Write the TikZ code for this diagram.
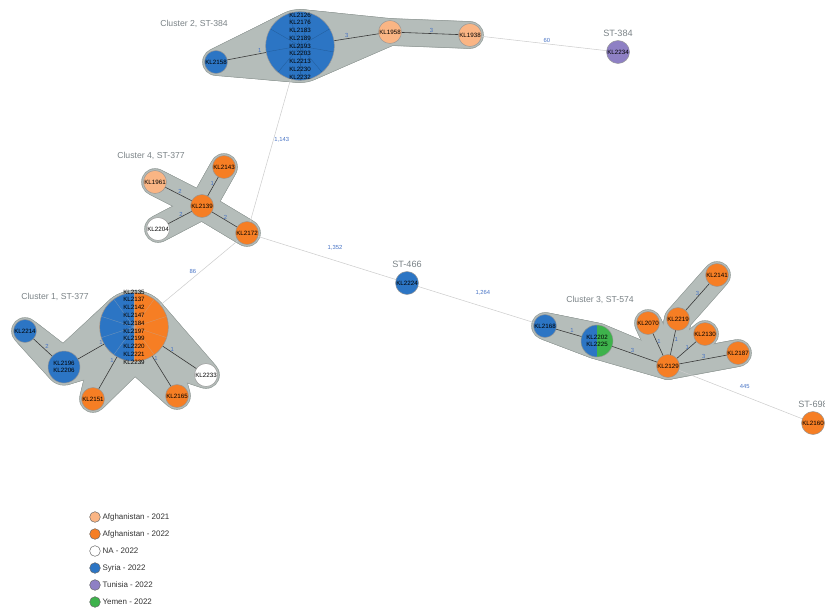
\documentclass[tikz,border=0pt]{standalone}
\usepackage{fontspec}
\setmainfont{Liberation Sans}
\usetikzlibrary{calc,positioning}
\definecolor{afgearly}{RGB}{250,181,132}
\definecolor{afglate}{RGB}{246,126,36}
\definecolor{syriablue}{RGB}{44,117,196}
\definecolor{tunisiapurple}{RGB}{142,128,196}
\definecolor{yemengreen}{RGB}{62,178,76}
\definecolor{hullgray}{RGB}{181,189,186}
\definecolor{hullrim}{RGB}{155,163,160}
\definecolor{rimgray}{RGB}{150,150,150}
\definecolor{linkdark}{RGB}{55,55,55}
\definecolor{linklight}{RGB}{205,205,205}
\definecolor{weightblue}{RGB}{70,114,196}
\definecolor{tagslate}{RGB}{122,130,134}
\pgfdeclarelayer{hull}
\pgfdeclarelayer{links}
\pgfsetlayers{hull,links,main}
\tikzset{
  isolate/.style={circle, draw=rimgray, line width=.4pt, minimum size=.69cm,
    inner sep=0pt, font=\fontsize{5.3}{6.5}\selectfont},
  pairnode/.style={isolate, minimum size=.96cm, align=center},
  hubnode/.style={circle, draw=rimgray, line width=.4pt, minimum size=2.06cm,
    inner sep=0pt},
  hubtext/.style={align=center, inner sep=0pt, font=\fontsize{5.3}{6.63}\selectfont},
  intra/.style={linkdark, line width=.5pt},
  inter/.style={linklight, line width=.45pt},
  weight/.style={text=weightblue, inner sep=.6pt, font=\fontsize{5}{6}\selectfont},
  clustertag/.style={text=tagslate, font=\fontsize{7.4}{9}\selectfont},
  sttag/.style={text=tagslate, font=\fontsize{7.8}{9}\selectfont},
  legdot/.style={circle, draw=black!60, line width=.4pt, minimum size=.32cm,
    inner sep=0pt},
  legtext/.style={text=black!80, inner sep=.5pt, font=\fontsize{6.8}{8}\selectfont},
}
% One pass over every cluster band: #1 extra radius, #2 colour.
\newcommand{\hullpass}[2]{%
  \foreach \ha/\hra/\hb/\hrb in {c2hub/36/k2158/13, c2hub/36/k1958/13,
      k1958/13/k1938/13, k2139/13/k1961/13, k2139/13/k2143/13,
      k2139/13/k2204/13, k2139/13/k2172/13, c1hub/35.8/k2196/17.6,
      k2196/17.6/k2214/13, c1hub/35.8/k2151/13, c1hub/35.8/k2165/13,
      c1hub/35.8/k2233/13, k2168/13/k2202/17.4, k2202/17.4/k2129/13,
      k2129/13/k2070/13, k2129/13/k2219/13, k2219/13/k2141/13,
      k2129/13/k2130/13, k2129/13/k2187/13}{%
    \foreach \hs in {0,...,40}{%
      \pgfmathsetmacro\hullt{\hs/40}%
      \fill[#2] ($(\ha)!\hullt!(\hb)$)
        circle[radius={\hra+(\hrb-\hra)*\hullt+#1}];
    }%
  }%
}
\begin{document}
\begin{tikzpicture}[x=0.03cm, y=-0.03cm]
  \useasboundingbox (0,0) rectangle (825,607);

  % Cluster 2
  \node[isolate, fill=syriablue] (k2158) at (216,62) {KL2158};
  \node[hubnode, fill=syriablue,
    path picture={\foreach \sl in {0,40,...,320}
      \draw[syriablue!80!black, line width=.3pt]
        (path picture bounding box.center) -- ++({\sl+70}:1.2cm);},
    label={[hubtext]center:{KL2126\\KL2176\\KL2183\\KL2189\\KL2193\\KL2203\\KL2213\\KL2230\\KL2232}}]
    (c2hub) at (300,46) {};
  \node[isolate, fill=afgearly] (k1958) at (390,32) {KL1958};
  \node[isolate, fill=afgearly] (k1938) at (470,35) {KL1938};
  \node[isolate, fill=tunisiapurple, label distance=4.5pt,
    label={[sttag]above:ST-384}] (k2234) at (618,52) {KL2234};

  % Cluster 4
  \node[isolate, fill=afgearly] (k1961) at (155,182) {KL1961};
  \node[isolate, fill=afglate] (k2143) at (224,167) {KL2143};
  \node[isolate, fill=afglate] (k2139) at (202,206) {KL2139};
  \node[isolate, fill=white] (k2204) at (158,229) {KL2204};
  \node[isolate, fill=afglate] (k2172) at (247,233) {KL2172};

  \node[isolate, fill=syriablue, label distance=4.5pt,
    label={[sttag]above:ST-466}] (k2224) at (407,283) {KL2224};

  % Cluster 1
  \node[hubnode, fill=afglate,
    path picture={\fill[syriablue] (path picture bounding box.south west)
        rectangle (path picture bounding box.north);
      \foreach \sl in {0,36,...,324}
      \draw[black!30, line width=.3pt, opacity=.5]
        (path picture bounding box.center) -- ++({\sl+90}:1.2cm);},
    label={[hubtext]center:{KL2135\\KL2137\\KL2142\\KL2147\\KL2184\\KL2197\\KL2199\\KL2220\\KL2221\\KL2239}}]
    (c1hub) at (134,327) {};
  \node[isolate, fill=syriablue] (k2214) at (25,331) {KL2214};
  \node[pairnode, fill=syriablue] (k2196) at (64,367) {KL2196\\KL2206};
  \node[isolate, fill=afglate] (k2151) at (93,399) {KL2151};
  \node[isolate, fill=afglate] (k2165) at (177,396) {KL2165};
  \node[isolate, fill=white] (k2233) at (206,375) {KL2233};

  % Cluster 3
  \node[isolate, fill=syriablue] (k2168) at (545,326) {KL2168};
  \node[pairnode, fill=yemengreen,
    path picture={\fill[syriablue] (path picture bounding box.south west)
        rectangle (path picture bounding box.north);}]
    (k2202) at (597,341) {KL2202\\KL2225};
  \node[isolate, fill=afglate] (k2129) at (668,366) {KL2129};
  \node[isolate, fill=afglate] (k2070) at (648,323) {KL2070};
  \node[isolate, fill=afglate] (k2219) at (678,319) {KL2219};
  \node[isolate, fill=afglate] (k2141) at (717,275) {KL2141};
  \node[isolate, fill=afglate] (k2130) at (705,334) {KL2130};
  \node[isolate, fill=afglate] (k2187) at (738,353) {KL2187};

  \node[isolate, fill=afglate, label distance=4.5pt,
    label={[sttag]above:ST-698}] (k2160) at (813,423) {KL2160};

  % Cluster captions
  \node[clustertag] (tag2) at (194,24) {Cluster 2, ST-384};
  \node[clustertag] (tag4) at (151,156) {Cluster 4, ST-377};
  \node[clustertag] (tag1) at (55,297) {Cluster 1, ST-377};
  \node[clustertag] (tag3) at (600,300) {Cluster 3, ST-574};

  % Legend
  \foreach \lgcol/\lgtext [count=\i] in {afgearly/Afghanistan - 2021,
      afglate/Afghanistan - 2022, white/NA - 2022, syriablue/Syria - 2022,
      tunisiapurple/Tunisia - 2022, yemengreen/Yemen - 2022}{
    \node[legdot, fill=\lgcol] (leg\i) at (95,{500+17*\i}) {};
    \node[legtext, right=1pt of leg\i] (legt\i) {\lgtext};
  }

  \begin{pgfonlayer}{links}
    % Links inside clusters
    \draw[intra] (k2158.center) -- node[weight, pos=.52, above] {1} (c2hub.center);
    \draw[intra] (c2hub.center) -- node[weight, pos=.52, above] {3} (k1958.center);
    \draw[intra] (k1958.center) -- node[weight, pos=.52, above] {3} (k1938.center);
    \draw[intra] (k1961.center) -- node[weight, pos=.53, above] {2} (k2139.center);
    \draw[intra] (k2139.center) -- node[weight, pos=.59, left] {1} (k2143.center);
    \draw[intra] (k2204.center) -- node[weight, pos=.52, above] {2} (k2139.center);
    \draw[intra] (k2139.center) -- node[weight, pos=.52, above] {2} (k2172.center);
    \draw[intra] (k2214.center) -- node[weight, pos=.5, above right] {2} (k2196.center);
    \draw[intra] (k2196.center) -- node[weight, pos=.53, above] {1} (c1hub.center);
    \draw[intra] (k2151.center) -- node[weight, pos=.53, left] {1} (c1hub.center);
    \draw[intra] (k2165.center) -- node[weight, pos=.55, right] {1} (c1hub.center);
    \draw[intra] (k2233.center) -- node[weight, pos=.47, above] {1} (c1hub.center);
    \draw[intra] (k2168.center) -- node[weight, pos=.52, above] {1} (k2202.center);
    \draw[intra] (k2202.center) -- node[weight, pos=.5, above] {3} (k2129.center);
    \draw[intra] (k2129.center) -- node[weight, pos=.58, right] {1} (k2070.center);
    \draw[intra] (k2129.center) -- node[weight, pos=.57, right] {1} (k2219.center);
    \draw[intra] (k2129.center) -- node[weight, pos=.59, left] {1} (k2130.center);
    \draw[intra] (k2129.center) -- node[weight, pos=.51, above] {3} (k2187.center);
    \draw[intra] (k2219.center) -- node[weight, pos=.57, left] {3} (k2141.center);
    % Links between clusters
    \draw[inter] (k1938.center) -- node[weight, pos=.52, above] {60} (k2234.center);
    \draw[inter] (c2hub.center) -- node[weight, pos=.5, right] {1,143} (k2172.center);
    \draw[inter] (k2172.center) -- node[weight, pos=.55, above=8pt] {1,352} (k2224.center);
    \draw[inter] (k2224.center) -- node[weight, pos=.55, above=9pt] {1,264} (k2168.center);
    \draw[inter] (k2172.center) -- node[weight, pos=.48, above=3pt] {86} (c1hub.center);
    \draw[inter] (k2129.center) -- node[weight, pos=.53, above=6pt] {445} (k2160.center);
  \end{pgfonlayer}

  \begin{pgfonlayer}{hull}
    \hullpass{.8}{hullrim}
    \hullpass{0}{hullgray}
  \end{pgfonlayer}
\end{tikzpicture}
\end{document}
